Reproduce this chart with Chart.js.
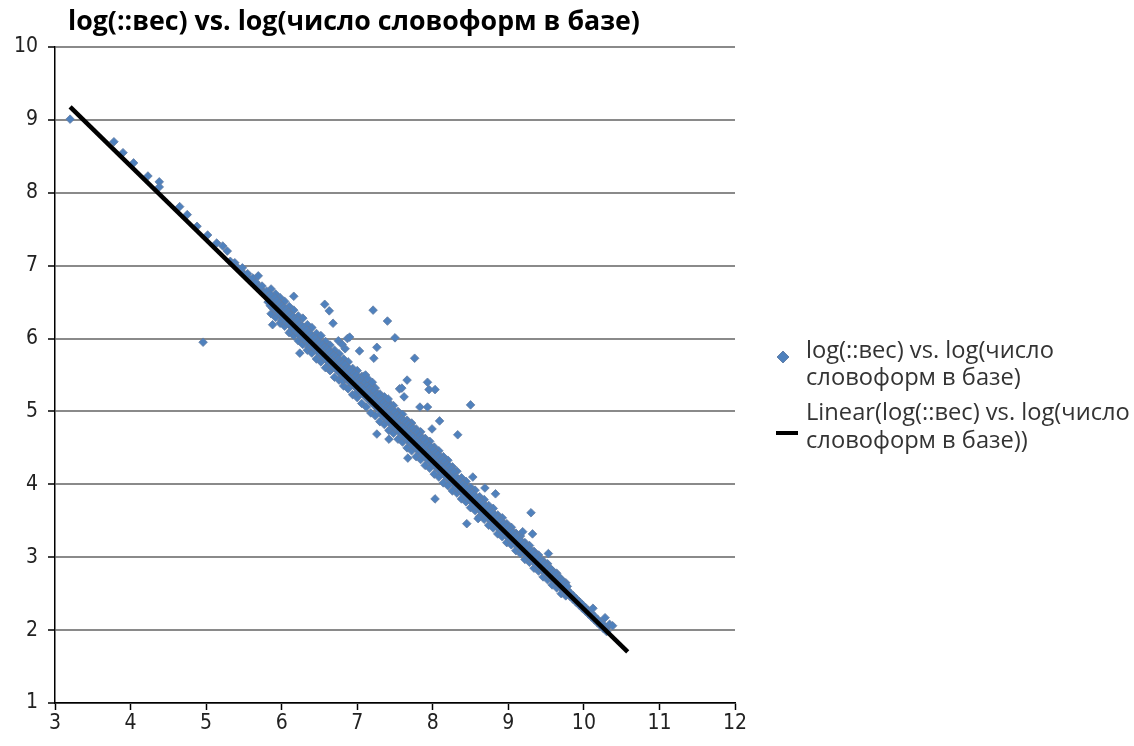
<!DOCTYPE html>
<html><head><meta charset="utf-8">
<script src="https://cdn.jsdelivr.net/npm/chart.js@4.4.1/dist/chart.umd.min.js"></script>
<style>html,body{margin:0;padding:0;background:#fff;}canvas{display:block}</style>
</head><body>
<canvas id="c" width="1134" height="746"></canvas>
<script>
const titleText = 'log(::вес) vs. log(число словоформ в базе)';
const seriesLabel = ['log(::вес) vs. log(число', 'словоформ в базе)'];
const trendLabel = ['Linear(log(::вес) vs. log(число', 'словоформ в базе))'];

const xRange = [3, 12];
const yRange = [1, 10];

// fitted trend line end points
const trendX = [3.20, 10.58];
const trendY = [9.18, 1.70];

// each row: x, then the y values observed at that x
const sparseTop = [
 [3.20,9.01],[3.78,8.70],[3.90,8.55],[4.04,8.41],[4.23,8.23],[4.38,8.15,8.08],
 [4.65,7.81],[4.75,7.70],[4.88,7.54],[4.96,5.95],[5.02,7.42],[5.14,7.31],[5.22,7.27],[5.28,7.20]
];
const bandUpper = [
 [5.32,7.06],[5.36,7.02],[5.38,7.04],[5.40,6.98],[5.43,6.96],[5.46,6.93],[5.48,6.97],[5.50,6.88],
 [5.53,6.85],[5.55,6.89],[5.58,6.81],[5.60,6.79],[5.62,6.83],[5.64,6.75],[5.66,6.77],[5.69,6.86],
 [5.70,6.71],[5.72,6.68],[5.74,6.72],[5.76,6.63],[5.78,6.61],[5.80,6.65],
 [5.82,6.58,6.50],[5.85,6.55,6.45,6.60],[5.88,6.52,6.42,6.19],[5.91,6.48,6.40,6.56],
 [5.94,6.45,6.38,6.52],[5.97,6.40,6.33,6.48],[6.00,6.38,6.30,6.45,6.25],[6.03,6.35,6.28,6.42],
 [6.06,6.33,6.22,6.40],[6.09,6.28,6.20,6.36],[6.12,6.25,6.17,6.32,6.10],[6.15,6.22,6.15,6.30],
 [6.16,6.58],[6.18,6.20,6.10,6.27],[6.21,6.15,6.08,6.25],[6.24,6.12,6.04,6.20,5.80],
 [6.27,6.10,6.02,6.17],[6.30,6.06,5.98,6.15],[6.33,6.05,5.96,6.12],[6.36,6.02,5.93,6.08,5.88],
 [6.39,5.98,5.90,6.05],[6.42,5.95,5.88,6.02],[6.45,5.92,5.85,6.00],[6.48,5.90,5.82,5.96]
];
const bandMiddle = [
 [6.51,5.86,5.78,5.94],[6.54,5.83,5.76,5.92],[6.57,5.80,5.73,5.88,6.47],[6.60,5.78,5.70,5.86],
 [6.63,5.75,5.66,5.83,6.38],[6.66,5.72,5.64,5.80,5.58],[6.68,6.21],[6.69,5.69,5.60,5.77],
 [6.72,5.66,5.58,5.75],[6.75,5.64,5.55,5.72,5.97],[6.78,5.60,5.52,5.68],[6.80,5.92],
 [6.81,5.58,5.50,5.66,5.42],[6.84,5.55,5.46,5.64,5.86],[6.87,5.52,5.44,5.60,6.00],
 [6.90,5.49,5.40,5.58,6.02],[6.93,5.46,5.38,5.55],[6.96,5.43,5.35,5.52],[6.99,5.40,5.32,5.50,5.25],
 [7.02,5.38,5.30,5.46],[7.03,5.83],[7.05,5.35,5.26,5.44],[7.08,5.32,5.24,5.42,5.48],
 [7.11,5.30,5.20,5.40,5.50],[7.14,5.26,5.18,5.36,5.45],[7.17,5.24,5.14,5.33],
 [7.20,5.20,5.12,5.30,5.40],[7.21,6.39],[7.22,5.73],[7.23,5.18,5.08,5.28],
 [7.26,5.14,5.05,5.24,4.69,5.88],[7.29,5.12,5.02,5.22],
 [7.32,5.07,4.97,5.15],[7.35,5.03,4.93,5.12],[7.38,5.00,4.90,5.09],[7.40,6.24],
 [7.41,4.97,4.87,5.07,5.17],[7.42,4.62],[7.44,4.95,4.84,5.05],[7.47,4.92,4.81,5.02],
 [7.50,4.89,4.77,4.99,6.01],[7.53,4.85,4.75,4.95],[7.56,4.82,4.72,4.92,5.31],
 [7.59,4.79,4.69,4.89,5.32],[7.62,4.77,4.65,4.87,5.20],[7.65,4.73,4.63,4.85],[7.66,5.43],
 [7.67,4.36],[7.68,4.71,4.59,4.82],[7.71,4.67,4.57,4.79],[7.74,4.65,4.53,4.77],[7.76,5.73],
 [7.77,4.61,4.51,4.73],[7.80,4.59,4.47,4.71],[7.83,4.55,4.45,4.67,5.06],[7.86,4.52,4.41,4.63],
 [7.89,4.49,4.39,4.61],[7.92,4.46,4.35,4.57],[7.93,5.40,5.06],[7.95,4.43,4.33,4.53,5.30],
 [7.98,4.40,4.30,4.51],[7.99,4.76],[8.01,4.37,4.27,4.47],[8.03,5.30,3.80],[8.04,4.34,4.24,4.43],
 [8.07,4.31,4.21,4.41],[8.09,4.87],[8.10,4.28,4.18,4.37],[8.13,4.25,4.15,4.34],
 [8.16,4.22,4.12,4.31],[8.19,4.19,4.09,4.27],[8.22,4.16,4.07,4.25],[8.25,4.13,4.04,4.21],
 [8.28,4.10,4.01,4.17],[8.33,4.68]
];
const bandLower = [
 [8.31,4.04,3.96,4.10],[8.34,4.00,3.93,4.06],[8.37,3.97,3.90,4.04],[8.40,3.94,3.87,4.00],
 [8.43,3.91,3.84,3.97],[8.45,3.46],[8.46,3.88,3.81,3.94],[8.49,3.85,3.78,3.91],[8.50,5.09],
 [8.52,3.82,3.75,3.88],[8.53,4.10],[8.55,3.79,3.72,3.85],[8.58,3.76,3.69,3.82],[8.60,3.53],
 [8.61,3.73,3.66,3.79],[8.64,3.70,3.63,3.76],[8.67,3.67,3.60,3.73],[8.69,3.95],
 [8.70,3.64,3.57,3.70],[8.73,3.61,3.54,3.67],[8.76,3.58,3.51,3.64],[8.79,3.55,3.48,3.61],
 [8.82,3.52,3.45,3.58],[8.83,3.87],[8.85,3.49,3.42,3.55],[8.88,3.46,3.39,3.52],
 [8.91,3.43,3.36,3.49],[8.94,3.40,3.33,3.46],[8.97,3.37,3.30,3.43],[9.00,3.34,3.27,3.40],
 [9.03,3.31,3.24,3.37],[9.06,3.28,3.21,3.34],[9.09,3.25,3.18,3.30],[9.12,3.22,3.15,3.27],
 [9.15,3.19,3.12,3.24],[9.18,3.16,3.09,3.21],[9.19,3.35],[9.21,3.13,3.06,3.18],
 [9.24,3.10,3.03,3.15],[9.27,3.07,3.00,3.12],[9.30,3.04,2.97,3.09,3.61],[9.32,3.32],
 [9.33,3.01,2.94,3.06],[9.36,2.98,2.91,3.03],[9.39,2.95,2.88,3.00],[9.42,2.92,2.85,2.97],
 [9.45,2.89,2.82,2.94],[9.48,2.86,2.79,2.91],
 [9.51,2.83,2.77,2.88],[9.53,3.05],[9.54,2.80,2.74,2.85],[9.57,2.77,2.71,2.83],
 [9.60,2.74,2.68,2.79],[9.63,2.71,2.65,2.77],[9.66,2.68,2.63,2.73],[9.69,2.65,2.59,2.71],
 [9.72,2.62,2.56,2.67],[9.75,2.59,2.53,2.63],[9.78,2.55,2.50,2.60],[9.82,2.51,2.46],
 [9.86,2.47,2.42],[9.90,2.43,2.38],[9.94,2.39,2.34],[9.98,2.35,2.30],[10.02,2.31,2.26],
 [10.06,2.27,2.22],[10.10,2.23,2.18],[10.12,2.30],[10.14,2.19,2.14],[10.18,2.15,2.10],
 [10.22,2.11,2.06],[10.26,2.07,2.02],[10.28,2.17],[10.30,2.03,1.98],[10.34,2.08],[10.38,2.06]
];
// points on the upper and lower fringes of the dense band
const bandEdges = [
 [5.86,6.68,6.34],[5.92,6.61,6.29],[5.98,6.56,6.21],[6.04,6.51,6.17],[6.10,6.44,6.08],
 [6.16,6.39,6.04],[6.22,6.31,5.97],[6.28,6.28,5.92],[6.34,6.19,5.84],[6.40,6.15,5.80],
 [6.46,6.07,5.72],[6.52,6.04,5.68],[6.58,5.96,5.60],[6.64,5.91,5.56],[6.70,5.84,5.47],
 [6.76,5.79,5.43],[6.82,5.72,5.35],[6.88,5.68,5.31],[6.94,5.59,5.23],[7.00,5.56,5.19],
 [7.06,5.48,5.11],[7.12,5.44,5.06],[7.18,5.36,4.98],[7.24,5.32,4.94],[7.30,5.24,4.86],
 [7.36,5.20,4.82],[7.42,5.12,4.74],[7.48,5.08,4.70],[7.54,5.00,4.62],[7.60,4.96,4.58],
 [7.66,4.88,4.50],[7.72,4.84,4.46],[7.78,4.76,4.38],[7.84,4.72,4.34],[7.90,4.63,4.26],
 [7.96,4.59,4.22],[8.02,4.51,4.14],[8.08,4.46,4.10],[8.14,4.38,4.02],[8.20,4.33,3.98],
 [8.26,4.24,3.91],[8.32,4.18,3.88],[8.38,4.09,3.80],[8.44,4.04,3.76],[8.50,3.96,3.68],
 [8.56,3.92,3.64],[8.62,3.83,3.56],[8.68,3.79,3.52],[8.74,3.71,3.44],[8.80,3.67,3.40],
 [8.86,3.58,3.32],[8.92,3.54,3.28],[8.98,3.46,3.20],[9.04,3.41,3.17],[9.10,3.33,3.09],
 [9.16,3.29,3.05],[9.22,3.20,2.97],[9.28,3.16,2.93],[9.34,3.08,2.85],[9.40,3.03,2.81],
 [9.46,2.95,2.73],[9.52,2.91,2.69],[9.58,2.82,2.62],[9.64,2.78,2.58],[9.70,2.69,2.50],
 [9.76,2.65,2.47]
];

function expand(rows){
  const out = [];
  rows.forEach(r => { for (let i = 1; i < r.length; i++) out.push({x: r[0], y: r[i]}); });
  return out;
}
const scatterData = [].concat(expand(sparseTop), expand(bandEdges), expand(bandUpper), expand(bandMiddle), expand(bandLower));
const trendData = trendX.map((x, i) => ({x: x, y: trendY[i]}));

const PLOT = {left: 55, top: 47, right: 735, bottom: 703};
const TICK_FONT = {family: '"Liberation Sans Narrow", "DejaVu Sans Condensed", "Open Sans", sans-serif', size: 21};

const overlay = {
  id: 'overlay',
  afterDraw(chart){
    const ctx = chart.ctx;
    ctx.save();
    // title
    let fs = 21;
    ctx.font = 'bold ' + fs + 'px "Open Sans"';
    let w = ctx.measureText(titleText).width;
    fs = fs * 572 / w;
    ctx.font = 'bold ' + fs.toFixed(2) + 'px "Open Sans"';
    ctx.fillStyle = '#000';
    ctx.textBaseline = 'middle';
    ctx.textAlign = 'left';
    ctx.fillText(titleText, 68, 22);
    // legend
    let lf = 18;
    ctx.font = lf + 'px "Open Sans"';
    w = ctx.measureText(trendLabel[0]).width;
    lf = lf * 324 / w;
    ctx.font = lf.toFixed(2) + 'px "Open Sans"';
    ctx.fillStyle = '#333';
    ctx.fillText(seriesLabel[0], 806, 351);
    ctx.fillText(seriesLabel[1], 806, 378);
    ctx.fillText(trendLabel[0], 806, 413);
    ctx.fillText(trendLabel[1], 806, 441);
    // diamond marker
    ctx.beginPath();
    const cx = 783, cy = 357, r = 6;
    ctx.moveTo(cx, cy - r); ctx.lineTo(cx + r, cy); ctx.lineTo(cx, cy + r); ctx.lineTo(cx - r, cy); ctx.closePath();
    ctx.fillStyle = '#4F81BD'; ctx.fill();
    ctx.strokeStyle = '#6480a8'; ctx.lineWidth = 1; ctx.stroke();
    // line marker
    ctx.beginPath();
    ctx.moveTo(776, 433); ctx.lineTo(798, 433);
    ctx.strokeStyle = '#000'; ctx.lineWidth = 4; ctx.stroke();
    ctx.restore();
  }
};

new Chart(document.getElementById('c'), {
  type: 'scatter',
  data: {
    datasets: [
      {
        type: 'line',
        label: trendLabel.join(' '),
        data: trendData,
        borderColor: '#000',
        borderWidth: 4.5,
        pointRadius: 0,
        fill: false,
        order: 1
      },
      {
        label: seriesLabel.join(' '),
        data: scatterData,
        pointStyle: 'rectRot',
        pointRadius: 4.3,
        backgroundColor: '#4F81BD',
        borderColor: 'rgba(100,125,162,0.8)',
        borderWidth: 1,
        order: 2
      }
    ]
  },
  options: {
    responsive: false,
    animation: false,
    devicePixelRatio: 1,
    layout: {padding: {top: PLOT.top, right: 1134 - PLOT.right, bottom: 0, left: 0}},
    plugins: {legend: {display: false}, title: {display: false}, tooltip: {enabled: false}},
    scales: {
      x: {
        type: 'linear', min: xRange[0], max: xRange[1],
        ticks: {stepSize: 1, color: '#222', font: TICK_FONT, padding: 1},
        grid: {display: true, drawOnChartArea: false, drawTicks: true, tickLength: 7, tickColor: '#000', tickWidth: 1.5},
        border: {display: true, color: '#000', width: 1.5},
        afterFit(s){ s.height = 746 - PLOT.bottom; }
      },
      y: {
        type: 'linear', min: yRange[0], max: yRange[1],
        ticks: {stepSize: 1, color: '#222', font: TICK_FONT, padding: 10},
        grid: {display: true, color: '#8a8a8a', lineWidth: 2, drawTicks: true, tickLength: 7, tickColor: '#000', tickWidth: 1.5},
        border: {display: true, color: '#000', width: 1.5},
        afterFit(s){ s.width = PLOT.left; }
      }
    }
  },
  plugins: [overlay]
});
</script>
</body></html>
